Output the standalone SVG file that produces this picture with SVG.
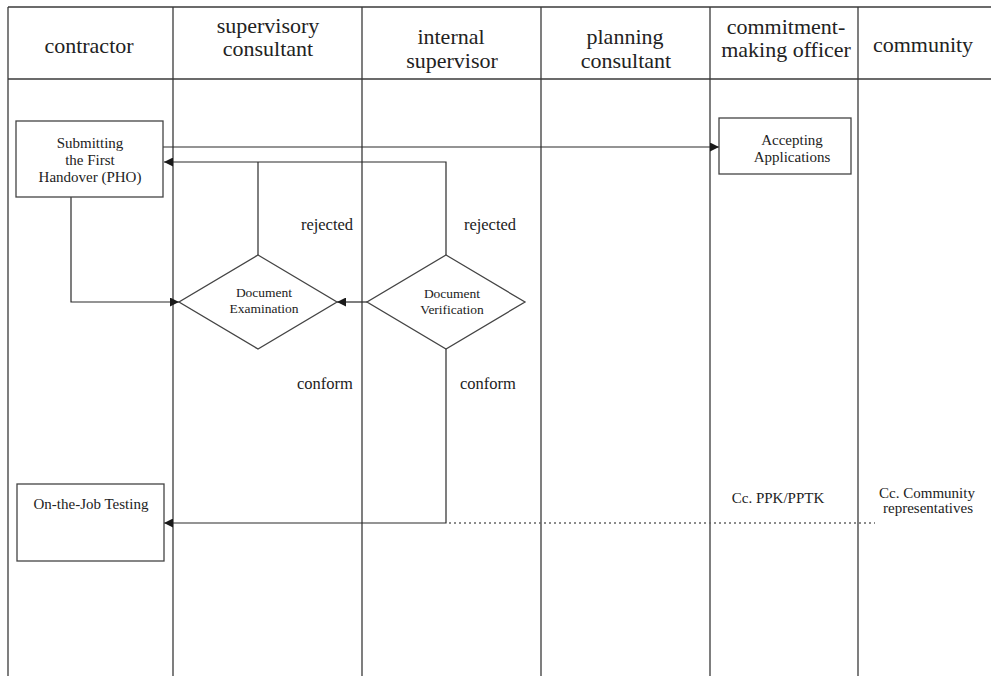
<svg xmlns="http://www.w3.org/2000/svg" width="991" height="676" viewBox="0 0 991 676">
  <defs>
    <marker id="arrow" viewBox="0 0 10 10" refX="10" refY="5" markerWidth="10" markerHeight="9" markerUnits="userSpaceOnUse" orient="auto">
      <path d="M0,0 L10,5 L0,10 Z" fill="#1a1a1a"/>
    </marker>
    <style>
      .grid { stroke: #3a3a3a; stroke-width: 1.3; fill: none; }
      .box { stroke: #444; stroke-width: 1.3; fill: #fff; }
      .edge { stroke: #2a2a2a; stroke-width: 1.2; fill: none; }
      .dotted { stroke: #666; stroke-width: 1.4; fill: none; stroke-dasharray: 2 3; }
      text { font-family: "Liberation Serif", "Times New Roman", serif; fill: #222; text-anchor: middle; }
      .head { font-size: 22px; }
      .node { font-size: 15px; }
      .small { font-size: 13.5px; }
      .label { font-size: 16.5px; }
    </style>
  </defs>
  <rect width="991" height="676" fill="#fff"/>

  <!-- swimlane frame -->
  <g id="lanes">
    <line class="grid" x1="8" y1="7" x2="991" y2="7"/>
    <line class="grid" x1="8" y1="79" x2="991" y2="79"/>
    <line class="grid" x1="8" y1="7" x2="8" y2="676"/>
    <line class="grid" x1="173" y1="7" x2="173" y2="676"/>
    <line class="grid" x1="362" y1="7" x2="362" y2="676"/>
    <line class="grid" x1="541" y1="7" x2="541" y2="676"/>
    <line class="grid" x1="710" y1="7" x2="710" y2="676"/>
    <line class="grid" x1="858" y1="7" x2="858" y2="676"/>
  </g>

  <!-- lane headers -->
  <g id="headers">
    <text class="head" x="89" y="53">contractor</text>
    <text class="head" x="268" y="33">supervisory</text>
    <text class="head" x="268" y="56">consultant</text>
    <text class="head" x="451" y="44">internal</text>
    <text class="head" x="452" y="68">supervisor</text>
    <text class="head" x="625" y="44">planning</text>
    <text class="head" x="626" y="68">consultant</text>
    <text class="head" x="786" y="34">commitment-</text>
    <text class="head" x="786" y="57">making officer</text>
    <text class="head" x="923" y="52">community</text>
  </g>

  <!-- connectors -->
  <g id="connectors">
    <path class="edge" d="M163,147 H719" marker-end="url(#arrow)"/>
    <path class="edge" d="M258,255 V162"/>
    <path class="edge" d="M446,255 V162 H164" marker-end="url(#arrow)"/>
    <path class="edge" d="M71,197 V302 H179" marker-end="url(#arrow)"/>
    <path class="edge" d="M367,302 H337" marker-end="url(#arrow)"/>
    <path class="edge" d="M446,349 V523 H164" marker-end="url(#arrow)"/>
    <path class="dotted" d="M449,523 H875"/>
    <text class="label" x="327" y="230">rejected</text>
    <text class="label" x="490" y="230">rejected</text>
    <text class="label" x="325" y="389">conform</text>
    <text class="label" x="488" y="389">conform</text>
  </g>

  <g id="submit-pho">
    <rect class="box" x="16" y="121" width="147" height="76"/>
    <text class="node" x="90" y="148">Submitting</text>
    <text class="node" x="90" y="165">the First</text>
    <text class="node" x="90" y="182">Handover (PHO)</text>
  </g>

  <g id="accept-applications">
    <rect class="box" x="719" y="118" width="132" height="56"/>
    <text class="node" x="792" y="145">Accepting</text>
    <text class="node" x="792" y="162">Applications</text>
  </g>

  <g id="doc-examination">
    <polygon class="box" points="258,255 337,302 258,349 179,302"/>
    <text class="small" x="264" y="297">Document</text>
    <text class="small" x="264" y="313">Examination</text>
  </g>

  <g id="doc-verification">
    <polygon class="box" points="446,255 525,302 446,349 367,302"/>
    <text class="small" x="452" y="298">Document</text>
    <text class="small" x="452" y="314">Verification</text>
  </g>

  <g id="job-testing">
    <rect class="box" x="17" y="484" width="147" height="77"/>
    <text class="node" x="91" y="509">On-the-Job Testing</text>
  </g>

  <g id="cc-ppk">
    <text class="node" x="778" y="503">Cc. PPK/PPTK</text>
  </g>

  <g id="cc-community">
    <text class="node" x="927" y="498">Cc. Community</text>
    <text class="node" x="928" y="513">representatives</text>
  </g>
</svg>
